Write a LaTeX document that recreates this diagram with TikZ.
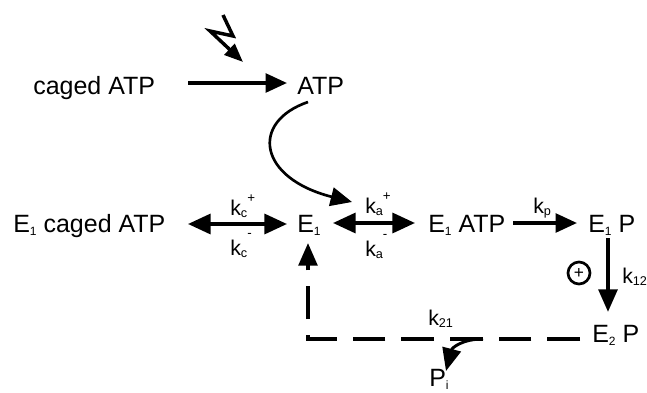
\documentclass[tikz,border=0pt]{standalone}
\usepackage{fontspec}
\setmainfont{Liberation Sans}
\usetikzlibrary{arrows.meta}
\newcommand{\lsub}[1]{\raisebox{-0.12em}{\fontsize{9}{9}\selectfont #1}}
\newcommand{\ksub}[1]{\raisebox{-0.1em}{\fontsize{9.5}{9.5}\selectfont #1}}
\newcommand{\ksup}[2]{\raisebox{#1}{\fontsize{10}{10}\selectfont #2}}
\begin{document}
\begin{tikzpicture}[x=0.75pt,y=-0.75pt,
  txt/.style={anchor=base west, inner sep=0pt, font=\fontsize{18.75}{22}\selectfont},
  klab/.style={anchor=base west, inner sep=0pt, font=\fontsize{16}{18}\selectfont},
  arr/.style={line width=2.6pt, -{Triangle[length=16pt,width=14pt]}},
  dbl/.style={line width=2.6pt, {Triangle[length=17pt,width=15pt]}-{Triangle[length=17pt,width=15pt]}},
]
\useasboundingbox (0,0) rectangle (647,393);
% species
\node[txt] (caged) at (33,94) {caged ATP};
\node[txt] (atp) at (297,94) {ATP};
\node[txt] (e1c) at (13,232) {E\lsub{1} caged ATP};
\node[txt] (e1) at (297,232) {E\lsub{1}};
\node[txt] (e1atp) at (428,232) {E\lsub{1} ATP};
\node[txt] (e1p) at (588,232) {E\lsub{1} P};
\node[txt] (e2p) at (592,342) {E\lsub{2} P};
\node[txt] (pi) at (429,386) {P\lsub{i}};
% rate labels
\node[klab] (kcp) at (230,215) {k\ksub{c}\ksup{0.6em}{+}};
\node[klab] (kcm) at (230,255) {k\ksub{c}\ksup{0.8em}{-}};
\node[klab] (kap) at (365,213) {k\ksub{a}\ksup{0.6em}{+}};
\node[klab] (kam) at (365,256) {k\ksub{a}\ksup{0.8em}{-}};
\node[klab] (kp) at (533,213) {k\ksub{p}};
\node[klab] (k12) at (622,283) {k\ksub{12}};
\node[klab] (k21) at (428,325) {k\ksub{21}};
% plus circle
\node[circle, draw, line width=2pt, minimum size=16.5pt, inner sep=0pt,
      font=\fontsize{13}{13}\selectfont] (plus) at (579,273) {+};
% connector end points
\coordinate (c1) at (188,83);  \coordinate (c2) at (287,83);
\coordinate (d1) at (188,224); \coordinate (d2) at (287,224);
\coordinate (a1) at (333,223); \coordinate (a2) at (415,223);
\coordinate (p1) at (513,223); \coordinate (p2) at (577,223);
\coordinate (v1) at (608,238); \coordinate (v2) at (608,312);
\coordinate (cs) at (308,102); \coordinate (ce) at (352,202);
\coordinate (l1) at (223,15);  \coordinate (l2) at (233,36);
\coordinate (l3) at (210,31);  \coordinate (l4) at (243,62);
\coordinate (h1) at (580,339); \coordinate (corner) at (308,339);
\coordinate (up) at (308,243);
\coordinate (q1) at (483,339); \coordinate (q2) at (446,371);
% arrows
\draw[arr] (c1) -- (c2);
\draw[dbl] (d1) -- (d2);
\draw[dbl] (a1) -- (a2);
\draw[arr] (p1) -- (p2);
\draw[line width=3pt, -{Triangle[length=17pt,width=14pt]}] (v1) -- (v2);
\draw[line width=2pt, -{Triangle[length=16pt,width=14pt]}]
  (cs) .. controls (250,122) and (258,178) .. (ce);
\draw[line width=2.6pt, line join=miter, -{Triangle[length=14pt,width=11pt]}]
  (l1) -- (l2) -- (l3) -- (l4);
\draw[line width=2.8pt, dash pattern=on 24.5pt off 12pt, -{Triangle[length=17pt,width=14pt]}]
  (h1) -- (corner) -- (up);
\draw[line width=2.2pt, -{Triangle[length=17pt,width=14pt]}]
  (q1) .. controls (462,339) and (452,348) .. (q2);
\end{tikzpicture}
\end{document}
